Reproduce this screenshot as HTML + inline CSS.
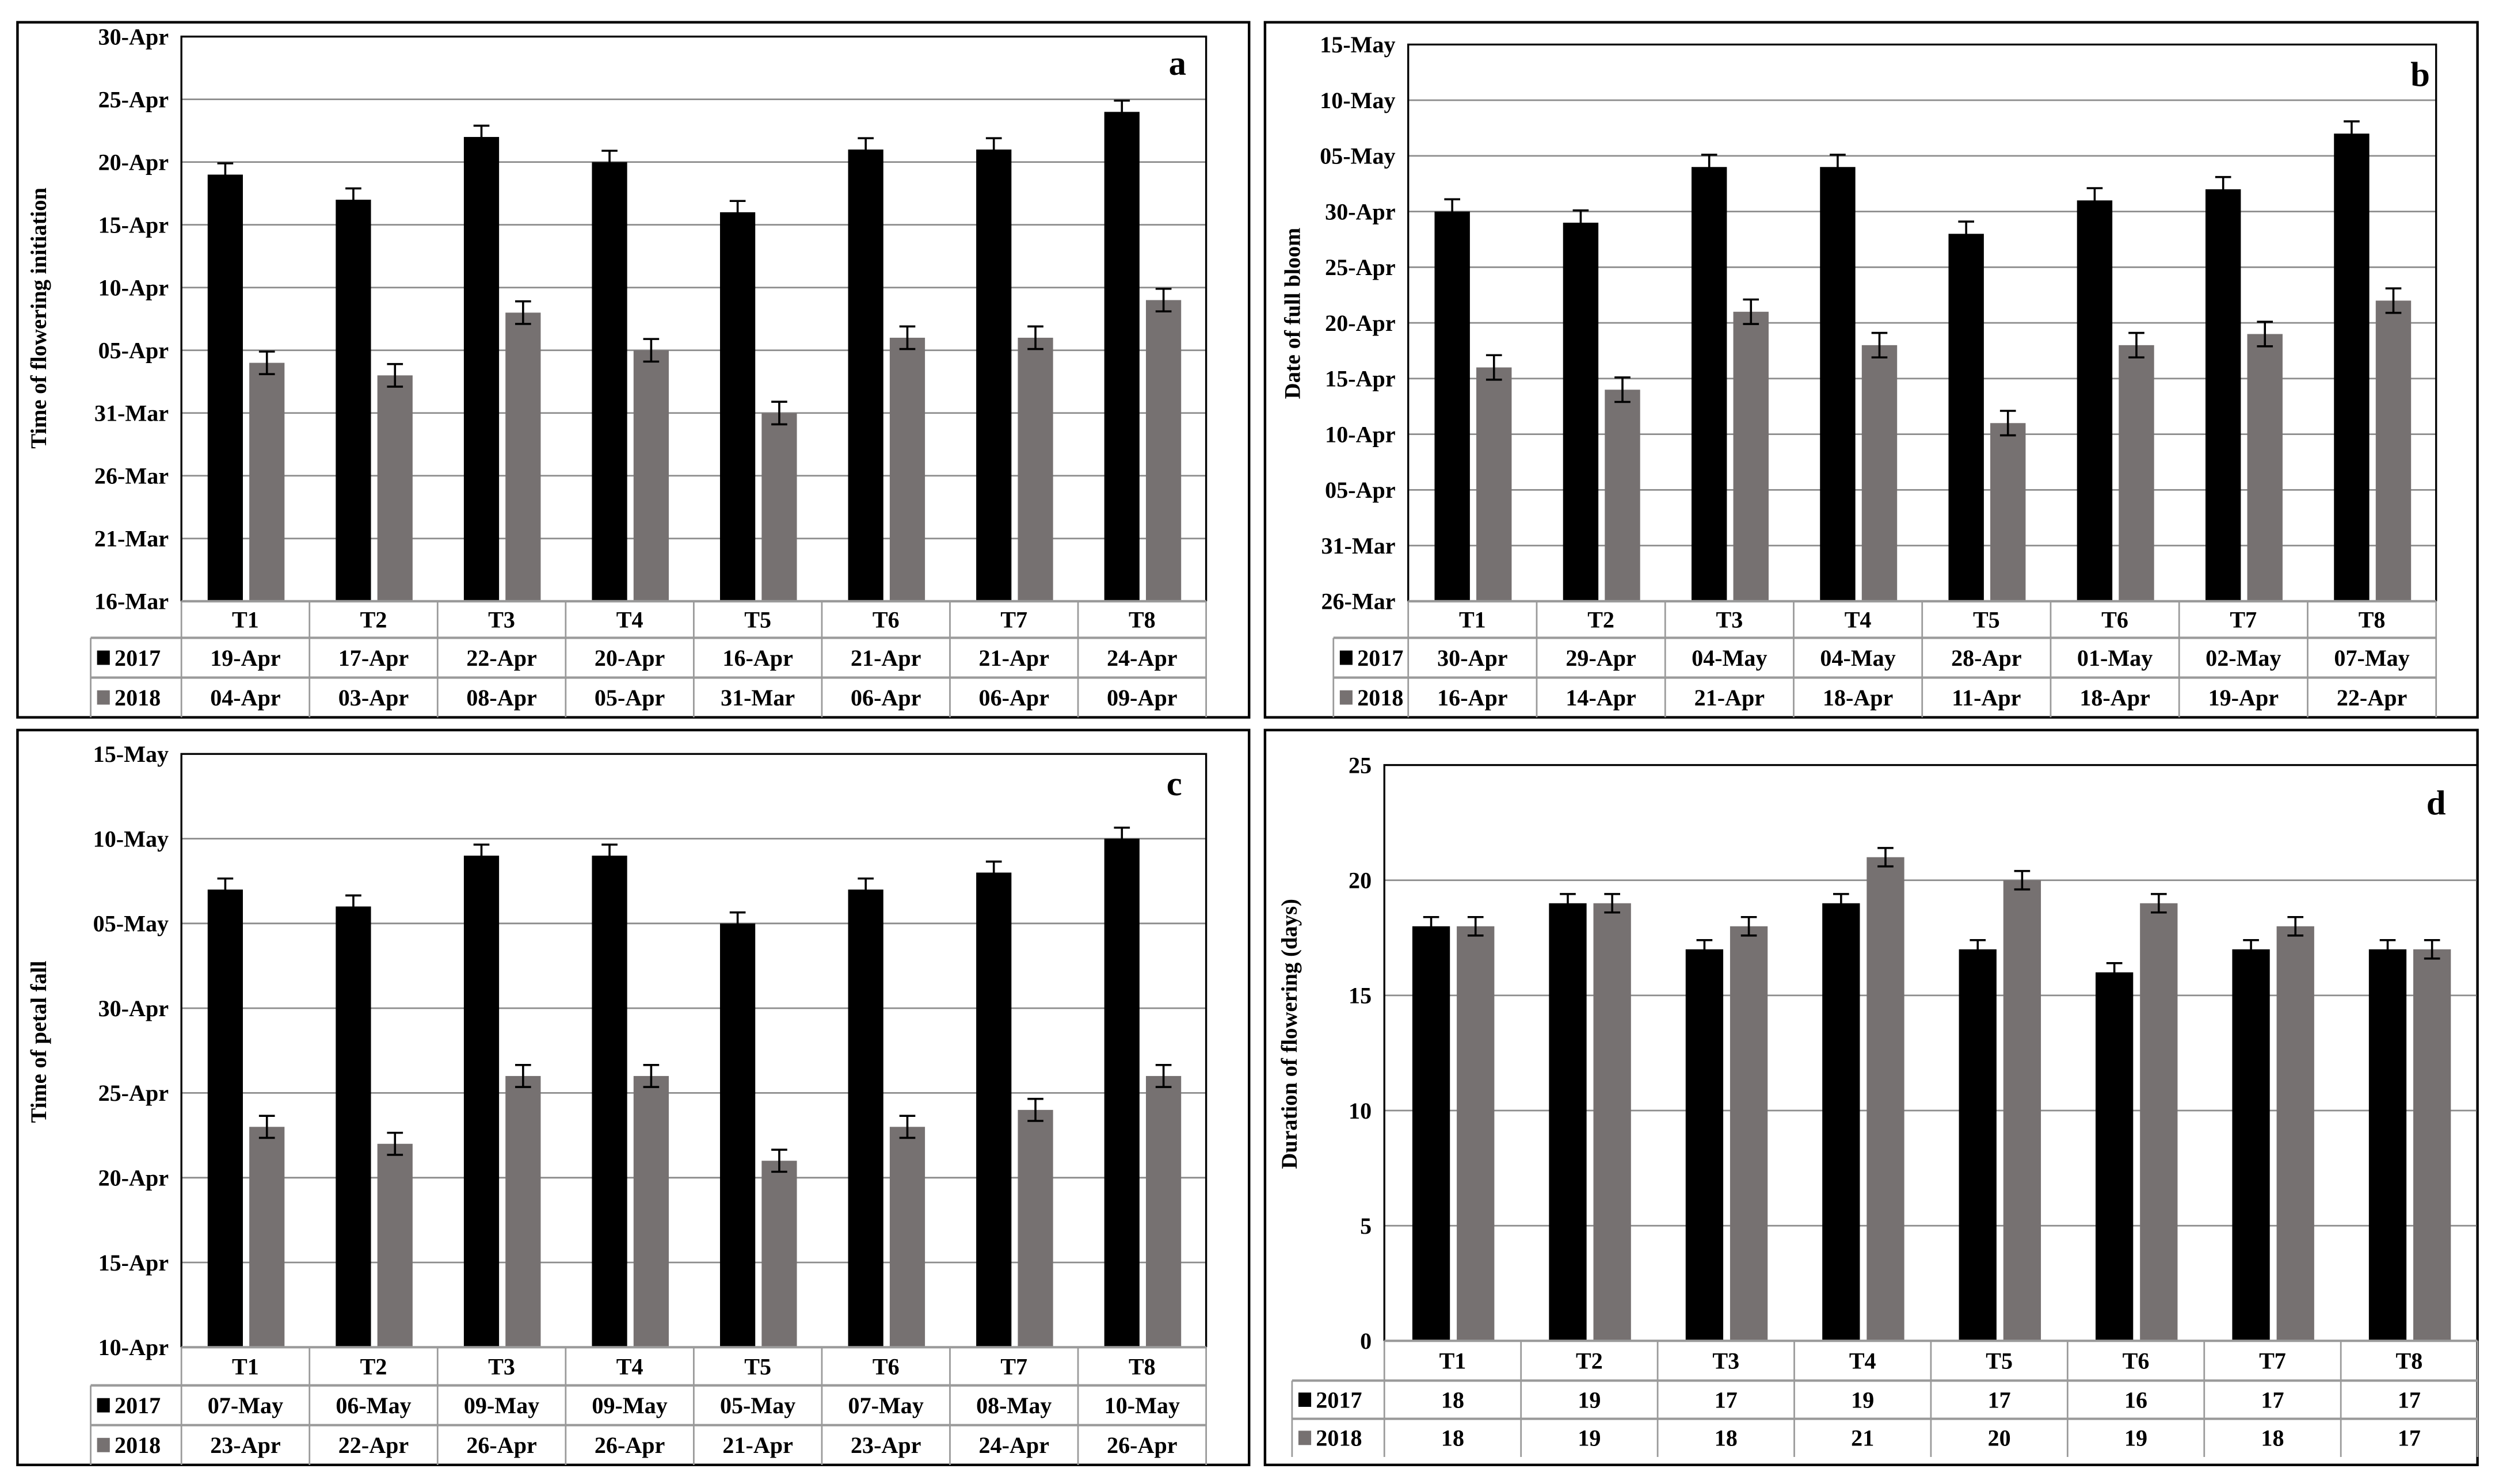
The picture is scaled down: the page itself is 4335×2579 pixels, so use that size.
<!DOCTYPE html>
<html><head><meta charset="utf-8">
<style>
html,body{margin:0;padding:0;background:#fff;}
svg{display:block;}
text{font-family:"Liberation Serif",serif;font-weight:bold;fill:#000;}
</style></head>
<body>
<svg id="fig" width="4335" height="2579" viewBox="0 0 1568 933" preserveAspectRatio="none" xmlns="http://www.w3.org/2000/svg">
<rect x="0" y="0" width="1568" height="933" fill="#fff"/>
</svg>
<script>
// ---- data ----
const categories = ["T1","T2","T3","T4","T5","T6","T7","T8"];
// panel a (days since 16-Mar)
const aTicks = ["16-Mar","21-Mar","26-Mar","31-Mar","05-Apr","10-Apr","15-Apr","20-Apr","25-Apr","30-Apr"];
const a2017 = [34,32,37,35,31,36,36,39];
const a2018 = [19,18,23,20,15,21,21,24];
const a2017Labels = ["19-Apr","17-Apr","22-Apr","20-Apr","16-Apr","21-Apr","21-Apr","24-Apr"];
const a2018Labels = ["04-Apr","03-Apr","08-Apr","05-Apr","31-Mar","06-Apr","06-Apr","09-Apr"];
// panel b (days since 26-Mar)
const bTicks = ["26-Mar","31-Mar","05-Apr","10-Apr","15-Apr","20-Apr","25-Apr","30-Apr","05-May","10-May","15-May"];
const b2017 = [35,34,39,39,33,36,37,42];
const b2018 = [21,19,26,23,16,23,24,27];
const b2017Labels = ["30-Apr","29-Apr","04-May","04-May","28-Apr","01-May","02-May","07-May"];
const b2018Labels = ["16-Apr","14-Apr","21-Apr","18-Apr","11-Apr","18-Apr","19-Apr","22-Apr"];
// panel c (days since 10-Apr)
const cTicks = ["10-Apr","15-Apr","20-Apr","25-Apr","30-Apr","05-May","10-May","15-May"];
const c2017 = [27,26,29,29,25,27,28,30];
const c2018 = [13,12,16,16,11,13,14,16];
const c2017Labels = ["07-May","06-May","09-May","09-May","05-May","07-May","08-May","10-May"];
const c2018Labels = ["23-Apr","22-Apr","26-Apr","26-Apr","21-Apr","23-Apr","24-Apr","26-Apr"];
// panel d (days)
const dTicks = ["0","5","10","15","20","25"];
const d2017 = [18,19,17,19,17,16,17,17];
const d2018 = [18,19,18,21,20,19,18,17];

const NS = "http://www.w3.org/2000/svg";
const svg = document.getElementById('fig');
function mk(tag, attrs, parent, txt){
  const e = document.createElementNS(NS, tag);
  for (const k in attrs) e.setAttribute(k, attrs[k]);
  if (txt !== undefined) e.textContent = txt;
  (parent || svg).appendChild(e);
  return e;
}

function panel(cfg){
  const g = mk('g', {});
  
  
  const o = cfg.outer;
  const ob = mk('rect', {x:o[0], y:o[1], width:o[2]-o[0], height:o[3]-o[1], fill:'none', stroke:'#000', 'stroke-width':1.6}, g);
  
  
  const L = cfg.plot[0], T = cfg.plot[1], R = cfg.plot[2], B = cfg.plot[3];
  const n = cfg.ticks.length - 1;
  const ymax = n * cfg.step;
  const y = v => B - (v / ymax) * (B - T);
  const colW = (R - L) / categories.length;
  const x = i => L + i * colW;
  // gridlines + tick labels
  for (let i = 0; i <= n; i++){
    const yy = y(i * cfg.step);
    if (i > 0){
      const gl = mk('line', {x1:L, x2:R, y1:yy, y2:yy, stroke:'#8c8c8c', 'stroke-width':1}, g);
      
      
    }
    const tl = mk('text', {x:L - 8, y:yy + 5, 'text-anchor':'end', 'font-size':14.5}, g, cfg.ticks[i]);
    
    
  }
  // plot border
  const pb = mk('path', {d:`M${L},${B} L${L},${T} L${R},${T} L${R},${B}`, fill:'none', stroke:'#000', 'stroke-width':1.2}, g);
  
  
  // bars
  const series = [[cfg.s1, '#000000', 0.205], [cfg.s2, '#767171', 0.53]];
  series.forEach((s, si) => {
    s[0].forEach((v, i) => {
      const bx = x(i) + s[2] * colW, bw = 0.275 * colW;
      const r = mk('rect', {x:bx, y:y(v), width:bw, height:B - y(v), fill:s[1]}, g);
      
      
      const cx = bx + bw / 2, e = cfg.err;
      const eb = mk('path', {d:`M${cx},${y(v+e)} L${cx},${y(v-e)} M${cx-5},${y(v+e)} L${cx+5},${y(v+e)} M${cx-5},${y(v-e)} L${cx+5},${y(v-e)}`, stroke:'#000', 'stroke-width':1.3, fill:'none'}, g);
      
      
    });
  });
  // data table
  const rows = cfg.rows; // [yTop, yT, y2017, y2018bottom]
  const lx = cfg.legendX;
  const grid = '#9a9a9a';
  const tbl = mk('g', {}, g);
  
  
  mk('line', {x1:L, x2:R, y1:rows[0], y2:rows[0], stroke:grid, 'stroke-width':1.5}, tbl);
  mk('line', {x1:lx, x2:R, y1:rows[1], y2:rows[1], stroke:grid, 'stroke-width':1.5}, tbl);
  mk('line', {x1:lx, x2:R, y1:rows[2], y2:rows[2], stroke:grid, 'stroke-width':1.5}, tbl);
  mk('line', {x1:lx, x2:lx, y1:rows[1], y2:rows[3], stroke:grid, 'stroke-width':1}, tbl);
  for (let i = 0; i <= categories.length; i++){
    mk('line', {x1:x(i), x2:x(i), y1:rows[0], y2:rows[3], stroke:grid, 'stroke-width':1}, tbl);
  }
  const rh = (rows[1] - rows[0]);
  categories.forEach((c, i) => {
    const cxm = x(i) + colW / 2;
    const t1 = mk('text', {x:cxm, y:(rows[0]+rows[1])/2 + 5, 'text-anchor':'middle', 'font-size':14.5}, tbl, c);
    
    
    const t2 = mk('text', {x:cxm, y:(rows[1]+rows[2])/2 + 5, 'text-anchor':'middle', 'font-size':14.5}, tbl, cfg.l1[i]);
    
    
    const t3 = mk('text', {x:cxm, y:(rows[2]+rows[3])/2 + 5, 'text-anchor':'middle', 'font-size':14.5}, tbl, cfg.l2[i]);
    
    
  });
  [['2017','#000',rows[1],rows[2]],['2018','#767171',rows[2],rows[3]]].forEach(r => {
    const ym = (r[2] + r[3]) / 2;
    const lk = mk('rect', {x:lx + 4, y:ym - 4.5, width:8, height:9, fill:r[1]}, tbl);
    
    
    const lt = mk('text', {x:lx + 15, y:ym + 5, 'font-size':14.5}, tbl, r[0]);
    
    
  });
  // y title
  const yt = mk('text', {x:0, y:0, 'text-anchor':'middle', 'font-size':14, transform:`translate(${cfg.ytitle[0]},${cfg.ytitle[1]}) rotate(-90)`}, g, cfg.title);
  
  
  const pl = mk('text', {x:cfg.letter[0], y:cfg.letter[1], 'text-anchor':'middle', 'font-size':22}, g, cfg.id);
  
  
}

const numLabels = arr => arr.map(String);
panel({id:'a', outer:[11,14,785,451], plot:[114,23,758,378], ticks:aTicks, step:5, s1:a2017, s2:a2018, err:0.9,
  rows:[378,401,426,451], legendX:57, l1:a2017Labels, l2:a2018Labels, title:'Time of flowering  initiation', ytitle:[29,200], letter:[740,47]});
panel({id:'b', outer:[795,14,1557,451], plot:[885,28,1531,378], ticks:bTicks, step:5, s1:b2017, s2:b2018, err:1.1,
  rows:[378,401,426,451], legendX:838, l1:b2017Labels, l2:b2018Labels, title:'Date of full bloom', ytitle:[817,197], letter:[1521,54]});
panel({id:'c', outer:[11,459,785,921], plot:[114,474,758,847], ticks:cTicks, step:5, s1:c2017, s2:c2018, err:0.65,
  rows:[847,871,896,921], legendX:57, l1:c2017Labels, l2:c2018Labels, title:'Time of petal  fall', ytitle:[29,655], letter:[738,500]});
panel({id:'d', outer:[795,459,1557,921], plot:[870,481,1557,843], ticks:dTicks, step:5, s1:d2017, s2:d2018, err:0.4,
  rows:[843,868,892,916], legendX:812, l1:numLabels(d2017), l2:numLabels(d2018), title:'Duration  of flowering (days)', ytitle:[815,650], letter:[1531,512]});
</script>
</body></html>
